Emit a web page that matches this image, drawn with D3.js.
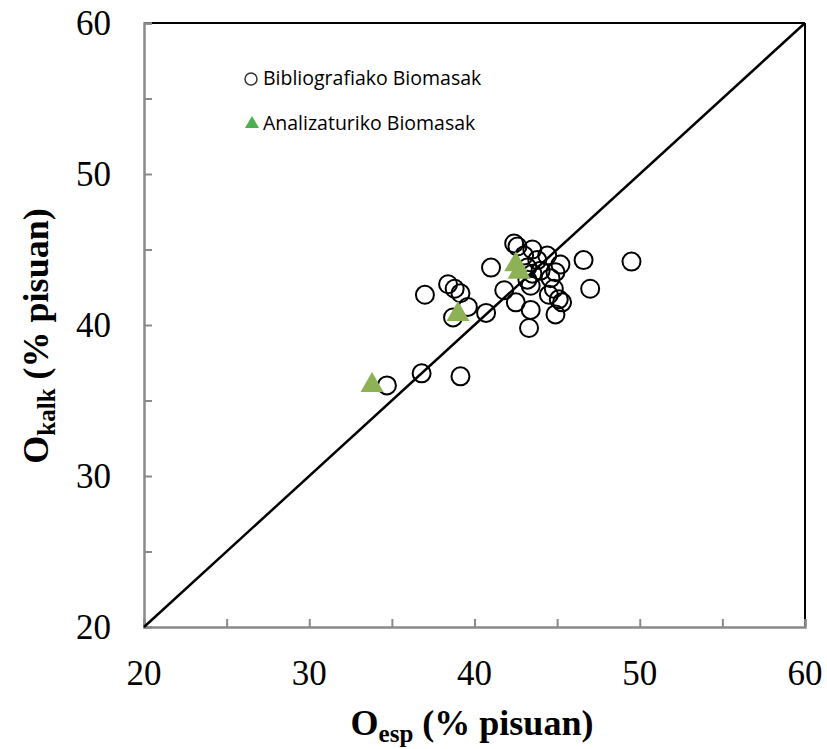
<!DOCTYPE html>
<html>
<head>
<meta charset="utf-8">
<script src="https://cdn.jsdelivr.net/npm/d3@7"></script>
<style>
  body { margin: 0; background: #fff; }
  svg { display: block; }
</style>
</head>
<body>
<script>
// Bibliografiako biomasak: [O_esp, O_kalk]
const bibliografia = [
  [34.7, 36.0], [36.8, 36.8], [39.15, 36.6], [37.0, 42.0], [38.4, 42.7],
  [38.8, 42.4], [39.15, 42.1], [39.6, 41.2], [38.7, 40.5], [40.7, 40.8],
  [41.0, 43.8], [41.8, 42.3], [42.6, 45.2], [43.5, 45.0], [43.8, 44.3],
  [44.4, 44.6], [45.2, 44.0], [44.9, 43.5], [43.2, 43.0], [43.4, 42.6],
  [44.6, 43.1], [44.8, 42.4], [45.1, 41.7], [44.5, 42.0], [45.3, 41.5],
  [42.5, 41.5], [43.4, 41.0], [44.9, 40.7], [43.3, 39.8], [46.6, 44.3],
  [47.0, 42.4], [49.5, 44.2], [43.2, 43.8], [44.0, 43.6], [43.5, 43.4],
  [42.4, 45.4], [43.0, 44.6]
];
// Analizaturiko biomasak
const analizaturiko = [
  [33.8, 36.0], [39.0, 40.7], [42.5, 44.0], [42.7, 43.5]
];
const ticksMajor = [20, 30, 40, 50, 60];
const ticksMinor = [20, 25, 30, 35, 40, 45, 50, 55, 60];

const W = 827, H = 749;
const svg = d3.select("body").append("svg").attr("width", W).attr("height", H);

const x = d3.scaleLinear().domain([20, 60]).range([144, 805]);
const y = d3.scaleLinear().domain([20, 60]).range([627, 23]);

const gray = "#8a8a8a";

// top and right borders
svg.append("line").attr("x1", x(20)).attr("x2", x(60)).attr("y1", y(60)).attr("y2", y(60))
  .attr("stroke", "#000").attr("stroke-width", 2);
svg.append("line").attr("x1", x(60)).attr("x2", x(60)).attr("y1", y(60)).attr("y2", y(20))
  .attr("stroke", "#000").attr("stroke-width", 2);

// axes (ticks inside)
const xAxis = d3.axisBottom(x).tickValues(ticksMinor).tickSize(-8).tickFormat("");
const yAxis = d3.axisLeft(y).tickValues(ticksMinor).tickSize(-8).tickFormat("");
const gx = svg.append("g").attr("transform", `translate(0,${y(20)})`).call(xAxis);
const gy = svg.append("g").attr("transform", `translate(${x(20)},0)`).call(yAxis);
[gx, gy].forEach(g => {
  g.select(".domain").attr("stroke", gray).attr("stroke-width", 2.5);
  g.selectAll(".tick line").attr("stroke", gray).attr("stroke-width", 2);
});

// tick labels
svg.append("g").selectAll("text").data(ticksMajor).enter().append("text")
  .attr("x", d => x(d)).attr("y", 685)
  .attr("text-anchor", "middle")
  .style("font-family", "'Liberation Serif', serif").style("font-size", "35px")
  .text(d => d);
svg.append("g").selectAll("text").data(ticksMajor).enter().append("text")
  .attr("x", 111).attr("y", d => y(d) + 12)
  .attr("text-anchor", "end")
  .style("font-family", "'Liberation Serif', serif").style("font-size", "35px")
  .text(d => d);

// 1:1 line
svg.append("line").attr("x1", x(20)).attr("y1", y(20)).attr("x2", x(60)).attr("y2", y(60))
  .attr("stroke", "#000").attr("stroke-width", 2.5);

// circles
svg.append("g").selectAll("circle").data(bibliografia).enter().append("circle")
  .attr("cx", d => x(d[0])).attr("cy", d => y(d[1])).attr("r", 9)
  .attr("fill", "none").attr("stroke", "#000").attr("stroke-width", 2);

// triangles
const tri = d3.symbol().type(d3.symbolTriangle).size(230);
svg.append("g").selectAll("path").data(analizaturiko).enter().append("path")
  .attr("d", tri)
  .attr("transform", d => `translate(${x(d[0])},${y(d[1])})`)
  .attr("fill", "#8db255");

// legend
const leg = svg.append("g");
leg.append("circle").attr("cx", 251).attr("cy", 79).attr("r", 6)
  .attr("fill", "none").attr("stroke", "#333").attr("stroke-width", 1.5);
leg.append("path").attr("d", d3.symbol().type(d3.symbolTriangle).size(85))
  .attr("transform", "translate(252,124)").attr("fill", "#4caf50");
leg.append("text").attr("x", 263).attr("y", 85)
  .style("font-family", "'Open Sans', sans-serif").style("font-size", "19.5px")
  .text("Bibliografiako Biomasak");
leg.append("text").attr("x", 263).attr("y", 130)
  .style("font-family", "'Open Sans', sans-serif").style("font-size", "19.5px")
  .text("Analizaturiko Biomasak");

// axis titles
const xt = svg.append("text").attr("x", 472).attr("y", 735).attr("text-anchor", "middle")
  .style("font-family", "'Liberation Serif', serif").style("font-weight", "bold").style("font-size", "36px");
xt.append("tspan").text("O");
xt.append("tspan").attr("dy", 7).style("font-size", "25px").text("esp");
xt.append("tspan").attr("dy", -7).text(" (% pisuan)");

const yt = svg.append("text").attr("transform", "translate(48,336) rotate(-90)").attr("text-anchor", "middle")
  .style("font-family", "'Liberation Serif', serif").style("font-weight", "bold").style("font-size", "36px");
yt.append("tspan").text("O");
yt.append("tspan").attr("dy", 7).style("font-size", "25px").text("kalk");
yt.append("tspan").attr("dy", -7).text(" (% pisuan)");
</script>
</body>
</html>
